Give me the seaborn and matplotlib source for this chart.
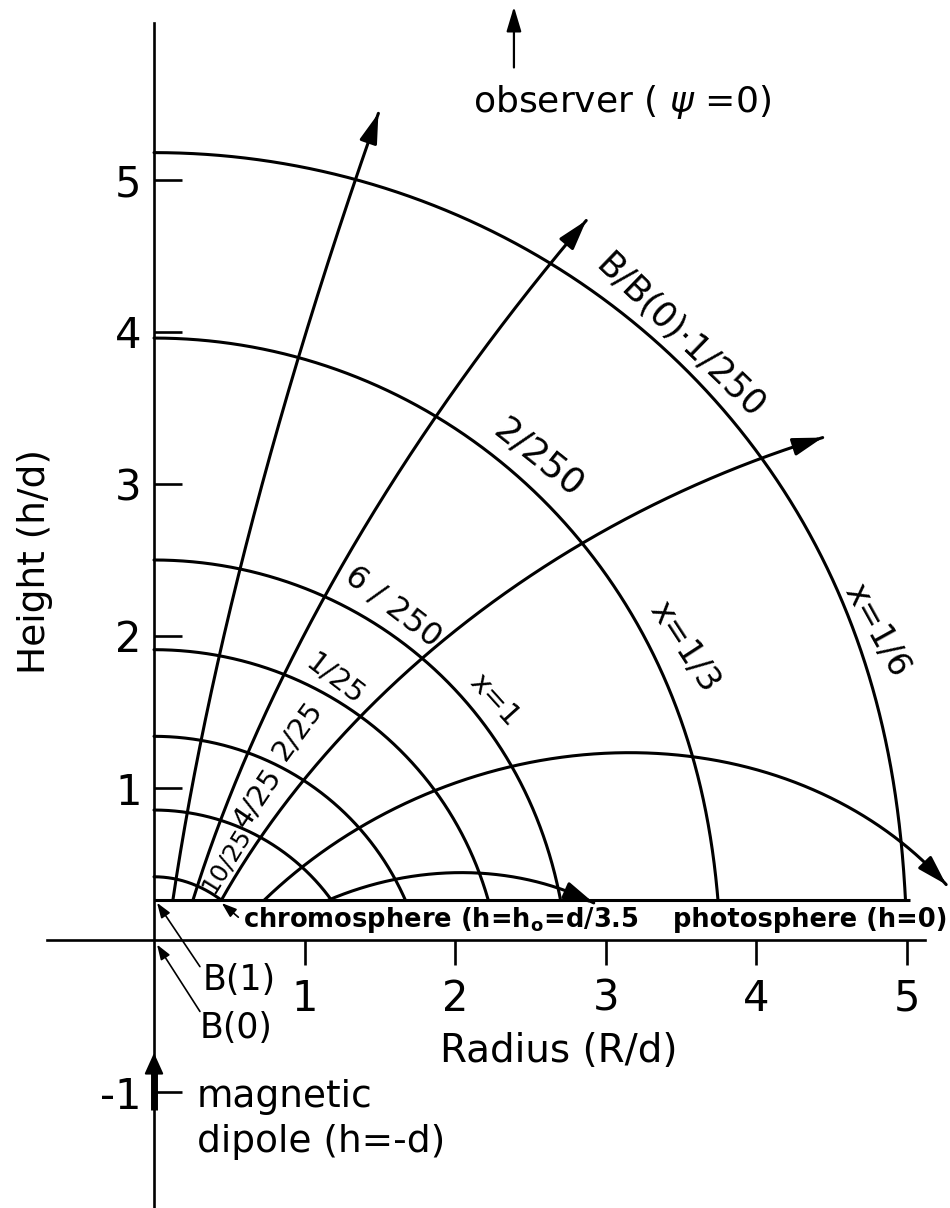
import numpy as np
import pandas as pd
import matplotlib
matplotlib.use("Agg")
import matplotlib.pyplot as plt
import seaborn as sns

# ---------------- data ----------------
H0 = 0.26                 # chromosphere height h0 (in units of d)
DIPOLE_H = -1.0           # dipole position (h = -d)

# contours of constant field strength B/B(0): apex height on axis, foot radius on chromosphere
arc_labels = ["1/250", "2/250", "6/250", "1/25", "2/25", "4/25", "10/25"]
arc_apex = [5.18, 3.96, 2.50, 1.91, 1.34, 0.855, 0.416]
arc_foot = [4.99, 3.745, 2.70, 2.22, 1.67, 1.18, 0.45]

# dipole field lines: shell parameter L and radius of the arrow tip
field_L = [130, 32, 12, 5.8, 3.75]
field_tip = [1.49, 2.87, 4.44, 5.26, 2.92]

x_ticks = [1, 2, 3, 4, 5]
y_ticks = [-1, 1, 2, 3, 4, 5]

# ---------------- style ----------------
sns.set_style("white")
plt.rcParams["font.family"] = ["DejaVu Sans"]
plt.rcParams["mathtext.fontset"] = "dejavusans"
plt.rcParams["text.color"] = "black"
plt.rcParams["axes.unicode_minus"] = False

fig = plt.figure(figsize=(9.5, 12.08), dpi=100)
ax = fig.add_axes([0, 0, 1, 1])
ax.set_facecolor("white")

LW = 2.2

# ---------------- curves ----------------
frames = []
for i, (apex, foot) in enumerate(zip(arc_apex, arc_foot)):
    th = np.linspace(0, np.pi / 2, 4000)
    r = (apex - DIPOLE_H) / 4 ** (1 / 6) * (1 + 3 * np.cos(th) ** 2) ** (1 / 6)
    x = r * np.sin(th)
    y = DIPOLE_H + r * np.cos(th)
    m = y >= H0
    x, y = x[m], y[m]
    x = x * foot / x[-1]
    frames.append(pd.DataFrame({"x": x, "y": y, "curve": f"arc{i}"}))

tips = []
for i, (L, tip) in enumerate(zip(field_L, field_tip)):
    th_end = np.arcsin((tip / L) ** (1 / 3))
    th = np.linspace(1e-4, th_end, 6000)
    x = L * np.sin(th) ** 3
    y = DIPOLE_H + L * np.sin(th) ** 2 * np.cos(th)
    s = int(np.argmax(y >= H0))
    x, y = x[s:], y[s:]
    frames.append(pd.DataFrame({"x": x, "y": y, "curve": f"field{i}"}))
    d = np.hypot(x - x[-1], y - y[-1])
    j = int(np.argmax(d < 0.18))
    tips.append(((x[j], y[j]), (x[-1], y[-1])))

df = pd.concat(frames, ignore_index=True)
sns.lineplot(data=df, x="x", y="y", units="curve", estimator=None, sort=False,
             color="black", linewidth=LW, ax=ax, legend=False)

for (p0, p1) in tips:
    ax.annotate("", xy=p1, xytext=p0,
                arrowprops=dict(arrowstyle="-|>,head_length=1.0,head_width=0.3",
                                mutation_scale=18, lw=LW, color="black",
                                shrinkA=0, shrinkB=0))

# chromosphere line
ax.plot([0, 5.02], [H0, H0], color="black", lw=LW, solid_capstyle="butt")

# ---------------- axes ----------------
for s in ["top", "right"]:
    ax.spines[s].set_visible(False)
ax.spines["left"].set_position(("data", 0))
ax.spines["bottom"].set_position(("data", 0))
ax.spines["left"].set_bounds(-1.8, 6.03)
ax.spines["bottom"].set_bounds(-0.71, 5.12)
for s in ["left", "bottom"]:
    ax.spines[s].set_color("black")
    ax.spines[s].set_linewidth(1.9)
ax.set_xticks(x_ticks)
ax.set_yticks(y_ticks)
ax.tick_params(axis="x", bottom=True, direction="out", length=18, width=1.9,
               pad=9, labelsize=30, colors="black")
ax.tick_params(axis="y", left=True, direction="in", length=20, width=1.9,
               pad=9, labelsize=30, colors="black")
ax.set_xlabel("")
ax.set_ylabel("")
ax.set_xlim(-1.0226, 5.2855)
ax.set_ylim(-1.763, 6.184)

# dipole arrow
ax.plot([0, 0], [-1.12, -0.85], color="black", lw=5, solid_capstyle="butt")
ax.annotate("", xy=(0, -0.743), xytext=(0, -0.90),
            arrowprops=dict(arrowstyle="-|>,head_length=1.0,head_width=0.45",
                            mutation_scale=13, lw=1.5, color="black",
                            shrinkA=0, shrinkB=0))

# observer arrow
ax.annotate("", xy=(2.39, 6.14), xytext=(2.39, 5.74),
            arrowprops=dict(arrowstyle="-|>,head_length=1.0,head_width=0.3",
                            mutation_scale=15, lw=1.6, color="black",
                            shrinkA=0, shrinkB=0))

# small pointer arrows
thin = dict(arrowstyle="-|>,head_length=1.0,head_width=0.35", mutation_scale=9,
            lw=1.2, color="black", shrinkA=0, shrinkB=0)
ax.annotate("", xy=(0.02, 0.245), xytext=(0.305, -0.175), arrowprops=thin)
ax.annotate("", xy=(0.02, -0.03), xytext=(0.305, -0.47), arrowprops=thin)
ax.annotate("", xy=(0.45, 0.243), xytext=(0.56, 0.15), arrowprops=thin)

# ---------------- text ----------------
ax.text(3.11, 5.51, r"observer ( $\psi$ =0)", fontsize=26, ha="center", va="center")
ax.text(-0.79, 2.49, "Height (h/d)", rotation=90, fontsize=27, ha="center", va="center")
ax.text(2.69, -0.73, "Radius (R/d)", fontsize=28, ha="center", va="center")
ax.text(0.32, -0.263, "B(1)", fontsize=25, ha="left", va="center")
ax.text(0.30, -0.579, "B(0)", fontsize=25, ha="left", va="center")
ax.text(0.285, -1.033, "magnetic", fontsize=27, ha="left", va="center")
ax.text(0.285, -1.33, "dipole (h=-d)", fontsize=27, ha="left", va="center")
ax.text(0.59, 0.13, r"chromosphere (h=h$_{\mathbf{o}}$=d/3.5", fontsize=18.5,
        fontweight="bold", ha="left", va="center")
ax.text(3.446, 0.13, "photosphere (h=0)", fontsize=18.5, fontweight="bold",
        ha="left", va="center")

lab = dict(ha="center", va="center", rotation_mode="anchor")
ax.text(3.49, 3.97, "B/B(0)\u00b71/250", fontsize=25, rotation=-44, **lab)
ax.text(2.55, 3.17, "2/250", fontsize=26, rotation=-38.5, **lab)
ax.text(1.587, 2.19, "6 / 250", fontsize=23, rotation=-37.5, **lab)
ax.text(1.20, 1.71, "1/25", fontsize=21, rotation=-37.5, **lab)
ax.text(0.956, 1.38, "2/25", fontsize=21, rotation=54, **lab)
ax.text(0.687, 0.934, "4/25", fontsize=21, rotation=56, **lab)
ax.text(0.478, 0.526, "10/25", fontsize=18, rotation=58, **lab)
ax.text(2.26, 1.58, "x=1", fontsize=21, rotation=-48, **lab)
ax.text(3.52, 1.93, "x=1/3", fontsize=24, rotation=-57, **lab)
ax.text(4.80, 2.04, "x=1/6", fontsize=24, rotation=-61, **lab)

fig.savefig("out.png", dpi=100, facecolor="white")
